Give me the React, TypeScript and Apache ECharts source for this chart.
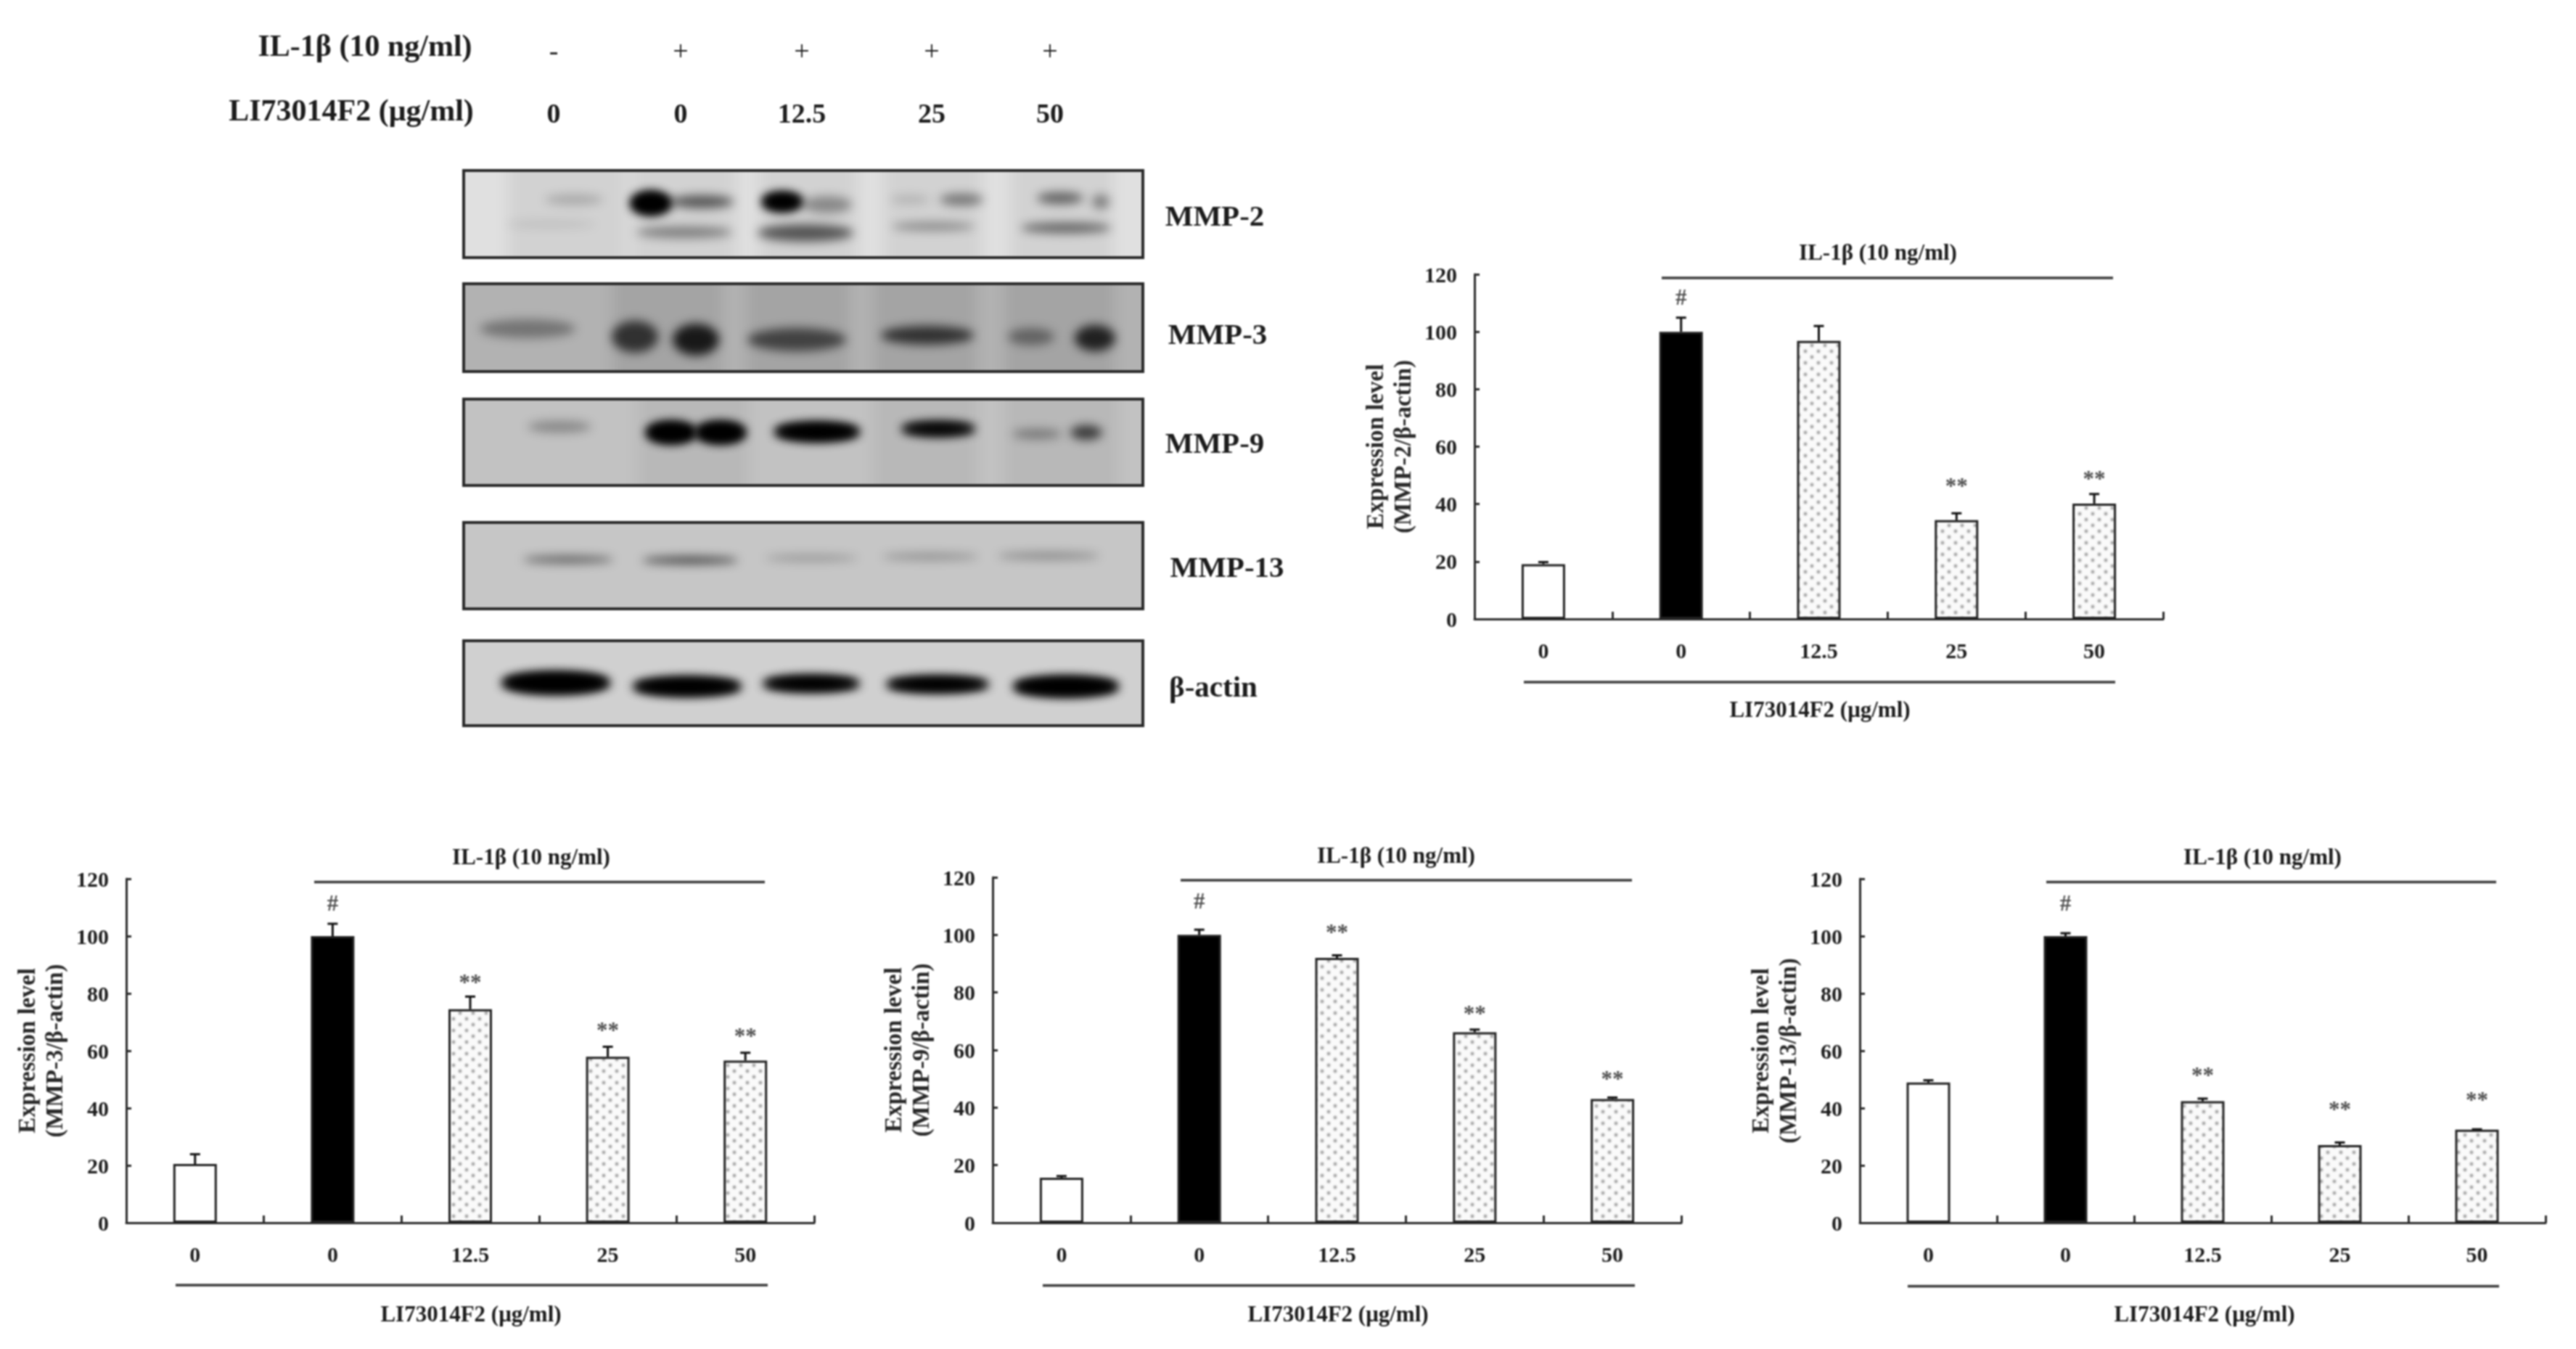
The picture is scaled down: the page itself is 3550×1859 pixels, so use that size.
import React, { useEffect, useRef } from "react";
import * as echarts from "echarts";

const doses = ["0", "0", "12.5", "25", "50"];
const mmp2Values = [19.1, 100, 96.8, 34.4, 40.2];
const mmp2ErrTop = [19.8, 104.9, 102, 36.8, 43.5];
const mmp2Marks = ["", "#", "", "**", "**"];
const mmp2MarkAt = [null, 112, null, 46.4, 49];
const mmp3Values = [20.5, 100, 74.5, 57.9, 56.6];
const mmp3ErrTop = [23.9, 104.3, 78.9, 61.4, 59.3];
const mmp3Marks = ["", "#", "**", "**", "**"];
const mmp3MarkAt = [null, 111.5, 84, 67.3, 65.2];
const mmp9Values = [15.6, 100, 92, 66.2, 43];
const mmp9ErrTop = [16.2, 101.8, 92.9, 67.1, 43.5];
const mmp9Marks = ["", "#", "**", "**", "**"];
const mmp9MarkAt = [null, 111.8, 101, 72.8, 50];
const mmp13Values = [48.9, 100, 42.4, 27.1, 32.5];
const mmp13ErrTop = [49.7, 101, 43.3, 28, 32.6];
const mmp13Marks = ["", "#", "**", "**", "**"];
const mmp13MarkAt = [null, 111.5, 51.6, 39.5, 43];

const il1Row = ["-", "+", "+", "+", "+"];
const inhibitorRow = ["0", "0", "12.5", "25", "50"];

const FONT = '"Liberation Serif", "Times New Roman", serif';
const INK = "#1c1c1c";

type Panel = {
  name: string; gene: string; values: number[]; errTop: number[]; marks: string[]; markAt: (number | null)[];
  left: number; right: number; top: number; bottom: number;
  il: [number, number, number, number, number]; // x0, x1, lineY, textX, textY
  li: [number, number, number, number, number];
};

const panels: Panel[] = [
  { name: "MMP-2", gene: "MMP-2", values: mmp2Values, errTop: mmp2ErrTop, marks: mmp2Marks, markAt: mmp2MarkAt,
    left: 2032, right: 2981, top: 378, bottom: 853, il: [2290, 2912, 383, 2588, 347], li: [2100, 2915, 940, 2508, 977] },
  { name: "MMP-3", gene: "MMP-3", values: mmp3Values, errTop: mmp3ErrTop, marks: mmp3Marks, markAt: mmp3MarkAt,
    left: 174, right: 1122, top: 1211, bottom: 1685, il: [433, 1054, 1215.5, 732, 1180], li: [242, 1058, 1771, 649, 1810] },
  { name: "MMP-9", gene: "MMP-9", values: mmp9Values, errTop: mmp9ErrTop, marks: mmp9Marks, markAt: mmp9MarkAt,
    left: 1368, right: 2317, top: 1209, bottom: 1685, il: [1627, 2249, 1213, 1924, 1178], li: [1437, 2253, 1771.5, 1844, 1810] },
  { name: "MMP-13", gene: "MMP-13", values: mmp13Values, errTop: mmp13ErrTop, marks: mmp13Marks, markAt: mmp13MarkAt,
    left: 2563, right: 3508, top: 1211, bottom: 1685, il: [2820, 3440, 1215.5, 3118, 1180], li: [2629, 3444, 1772.5, 3038, 1810] },
];

// Western blot strips: [cx, cy, rx, ry, darkness]
const blots = [
  { label: "MMP-2", y0: 233, y1: 357, bg: 224, labelX: 1674, labelY: 297,
    gaps: [[700, 863], [871, 1015], [1046, 1182], [1218, 1353], [1393, 1533]],
    laneShade: 0.06,
    bands: [[791, 275, 40, 7, 0.2], [759, 309, 62, 6, 0.08], [897, 280, 27, 15, 1], [967, 278, 44, 9, 0.6], [943, 320, 66, 8, 0.4],
      [1078, 278, 27, 12, 1], [1140, 282, 34, 12, 0.35], [1110, 321, 66, 12, 0.6], [1325, 275, 30, 8, 0.45], [1254, 275, 27, 6, 0.15],
      [1286, 312, 57, 6, 0.35], [1461, 273, 32, 8, 0.55], [1517, 278, 12, 10, 0.4], [1469, 314, 62, 7, 0.55]] },
  { label: "MMP-3", y0: 389, y1: 514, bg: 178, labelX: 1678, labelY: 460,
    gaps: [[845, 995], [1030, 1170], [1205, 1345], [1385, 1535]],
    laneShade: 0.08,
    bands: [[727, 453, 66, 13, 0.35], [875, 464, 32, 22, 0.7], [959, 468, 32, 22, 0.85], [1098, 468, 68, 16, 0.6], [1278, 462, 64, 13, 0.7],
      [1421, 464, 32, 12, 0.4], [1509, 466, 28, 18, 0.8]] },
  { label: "MMP-9", y0: 548, y1: 671, bg: 194, labelX: 1674, labelY: 610,
    gaps: [[880, 1030], [1205, 1345], [1385, 1540]],
    laneShade: 0.05,
    bands: [[771, 588, 44, 8, 0.3], [925, 596, 34, 14, 1], [993, 596, 34, 14, 1], [1126, 595, 58, 12, 1], [1293, 591, 50, 9, 0.9],
      [1429, 598, 34, 7, 0.35], [1497, 596, 22, 10, 0.7]] },
  { label: "MMP-13", y0: 718, y1: 841, bg: 198, labelX: 1691, labelY: 781,
    gaps: [], laneShade: 0,
    bands: [[783, 771, 62, 5, 0.55], [951, 772, 66, 5, 0.7], [1118, 769, 64, 4, 0.28], [1282, 767, 66, 5, 0.28], [1445, 766, 70, 5, 0.32]] },
  { label: "β-actin", y0: 881, y1: 1002, bg: 208, labelX: 1672, labelY: 946,
    gaps: [], laneShade: 0,
    bands: [[766, 941, 74, 14, 1], [947, 946, 74, 12, 1], [1118, 942, 66, 10, 1], [1292, 943, 70, 10, 1], [1469, 946, 72, 13, 1]] },
];
const BLOT_X0 = 637;
const BLOT_X1 = 1577;

function blotImage(b: (typeof blots)[number]) {
  const w = BLOT_X1 - BLOT_X0;
  const h = b.y1 - b.y0;
  const c = document.createElement("canvas");
  c.width = w; c.height = h;
  const ctx = c.getContext("2d")!;
  const g = b.bg;
  ctx.fillStyle = `rgb(${g},${g},${g})`;
  ctx.fillRect(0, 0, w, h);
  ctx.filter = "blur(10px)";
  b.gaps.forEach(([x0, x1]) => {
    ctx.fillStyle = `rgba(0,0,0,${b.laneShade})`;
    ctx.fillRect(x0 - BLOT_X0, -30, x1 - x0, h + 60);
  });
  ctx.filter = "blur(7px)";
  b.bands.forEach(([cx, cy, rx, ry, a]) => {
    ctx.fillStyle = `rgba(0,0,0,${a})`;
    ctx.beginPath();
    ctx.ellipse(cx - BLOT_X0, cy - b.y0, rx, ry, 0, 0, Math.PI * 2);
    ctx.fill();
    if (a >= 0.9) ctx.fill();
  });
  ctx.filter = "none";
  ctx.strokeStyle = "#2a2a2a";
  ctx.lineWidth = 4;
  ctx.strokeRect(2, 2, w - 4, h - 4);
  return c;
}

function dotPattern() {
  const c = document.createElement("canvas");
  c.width = 18; c.height = 16;
  const ctx = c.getContext("2d")!;
  ctx.fillStyle = "#fafafa";
  ctx.fillRect(0, 0, 18, 16);
  ctx.fillStyle = "#8c8c8c";
  ctx.filter = "blur(1px)";
  [[4, 4], [13, 12]].forEach(([x, y]) => {
    ctx.beginPath();
    ctx.arc(x, y, 2.2, 0, Math.PI * 2);
    ctx.fill();
  });
  return c;
}

function txt(text: string, x: number, y: number, size: number, weight = "bold", align = "center") {
  return { type: "text", x, y, style: { text, fontFamily: FONT, fontSize: size, fontWeight: weight, fill: INK, align, verticalAlign: "middle" }, silent: true };
}
function hline(x0: number, x1: number, y: number, lw = 3.5) {
  return { type: "line", shape: { x1: x0, y1: y, x2: x1, y2: y }, style: { stroke: "#3a3a3a", lineWidth: lw }, silent: true };
}

export default function App() {
  const ref = useRef<HTMLDivElement>(null);
  useEffect(() => {
    document.body.style.margin = "0";
    const chart = echarts.init(ref.current!, undefined, { renderer: "svg" });
    const pattern = { image: dotPattern(), repeat: "repeat" };
    const barColor = (i: number) => (i === 0 ? "#ffffff" : i === 1 ? "#000000" : pattern);

    const grid: any[] = [], xAxis: any[] = [], yAxis: any[] = [], series: any[] = [];
    const graphic: any[] = [];
    const tickFont = { fontFamily: FONT, fontWeight: "bold", fontSize: 30, color: INK };

    panels.forEach((p, k) => {
      grid.push({ left: p.left, top: p.top, width: p.right - p.left, height: p.bottom - p.top, containLabel: false, outerBoundsMode: "none" });
      xAxis.push({
        gridIndex: k, type: "category", data: doses, boundaryGap: true,
        axisLine: { show: true, lineStyle: { color: "#2a2a2a", width: 3 } },
        axisTick: { show: true, inside: true, length: 10, lineStyle: { color: "#2a2a2a", width: 3 }, alignWithLabel: false },
        axisLabel: { ...tickFont, margin: 28, interval: 0 },
        splitLine: { show: false },
      });
      yAxis.push({
        gridIndex: k, type: "value", min: 0, max: 120, interval: 20,
        name: `Expression level\n(${p.gene}/β-actin)`,
        nameLocation: "middle", nameRotate: 90, nameGap: 80,
        nameTextStyle: { fontFamily: FONT, fontWeight: "bold", fontSize: 33, color: "#2a2a2a", lineHeight: 38 },
        axisLine: { show: true, lineStyle: { color: "#2a2a2a", width: 3 } },
        axisTick: { show: true, inside: true, length: 7, lineStyle: { color: "#2a2a2a", width: 3 } },
        axisLabel: { ...tickFont, margin: 24 },
        splitLine: { show: false },
      });
      series.push({
        type: "bar", name: p.name, xAxisIndex: k, yAxisIndex: k, barWidth: 60,
        data: p.values.map((v, i) => ({ value: v, itemStyle: { color: barColor(i), borderColor: "#222", borderWidth: 3 } })),
      });
      series.push({
        type: "custom", name: p.name + " error", xAxisIndex: k, yAxisIndex: k, z: 1,
        data: p.errTop.map((e, i) => [i, p.values[i], e]),
        encode: { x: 0, y: [1, 2] },
        renderItem: (_: any, api: any) => {
          const a = api.coord([api.value(0), api.value(1)]);
          const b = api.coord([api.value(0), api.value(2)]);
          const st = { stroke: "#111", lineWidth: 3 };
          return { type: "group", children: [
            { type: "line", shape: { x1: a[0], y1: a[1], x2: b[0], y2: b[1] }, style: st },
            { type: "line", shape: { x1: b[0] - 7, y1: b[1], x2: b[0] + 7, y2: b[1] }, style: st },
          ] };
        },
      });
      series.push({
        type: "scatter", name: p.name + " significance", xAxisIndex: k, yAxisIndex: k, symbolSize: 1, itemStyle: { color: "transparent" },
        data: p.markAt.map((m, i) => (m == null ? null : { value: [i, m], label: { show: true, formatter: p.marks[i] } })).filter(Boolean),
        label: { show: true, position: "inside", fontFamily: FONT, fontSize: 31, fontWeight: "bold", color: "#222" },
      });
      graphic.push(hline(p.il[0], p.il[1], p.il[2]));
      graphic.push(hline(p.li[0], p.li[1], p.li[2]));
      graphic.push(txt("IL-1β (10 ng/ml)", p.il[3], p.il[4], 31));
      graphic.push(txt("LI73014F2 (μg/ml)", p.li[3], p.li[4], 31));
    });

    blots.forEach((b) => {
      graphic.push({ type: "image", x: BLOT_X0, y: b.y0, style: { image: blotImage(b), x: 0, y: 0, width: BLOT_X1 - BLOT_X0, height: b.y1 - b.y0 }, silent: true });
      graphic.push(txt(b.label, b.labelX, b.labelY, 41));
    });

    graphic.push(txt("IL-1β (10 ng/ml)", 503, 63, 42));
    graphic.push(txt("LI73014F2 (μg/ml)", 484, 152, 42));
    const laneX = [763, 938, 1105, 1284, 1447];
    il1Row.forEach((s, i) => graphic.push(txt(s, laneX[i], 70, 38, "normal")));
    inhibitorRow.forEach((s, i) => graphic.push(txt(s, laneX[i], 156, 38)));

    chart.setOption({ animation: false, backgroundColor: "#ffffff", grid, xAxis, yAxis, series, graphic: { elements: graphic } });
    return () => chart.dispose();
  }, []);
  return <div ref={ref} style={{ position: "absolute", left: 0, top: 0, width: 3550, height: 1859, filter: "blur(1.2px)" }} />;
}
